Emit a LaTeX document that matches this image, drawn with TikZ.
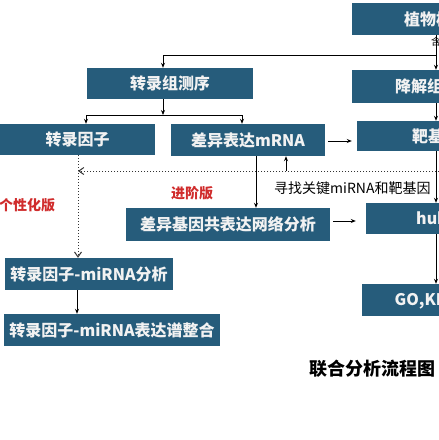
\documentclass[tikz,border=0pt]{standalone}
\usepackage{fontspec}
\setmainfont{Noto Sans CJK SC}
\usetikzlibrary{arrows.meta}
\definecolor{boxblue}{HTML}{265C7B}
\definecolor{labred}{HTML}{D02C2C}
\tikzset{
  box/.style={rectangle, fill=boxblue, text=white!95!black, inner sep=0pt, font=\fontsize{16}{18}\selectfont\bfseries},
  conn/.style={draw=black, line width=0.9pt, -{Stealth[length=5pt,width=4pt]}},
  plain/.style={draw=black, line width=0.9pt},
  dotconn/.style={draw=black!80, line width=1pt, dotted, -{Straight Barb[length=5pt,width=7pt]}},
  redlab/.style={text=labred, font=\fontsize{14}{16}\selectfont\bfseries, inner sep=0pt},
}
\begin{document}
\begin{tikzpicture}[x=1pt,y=-1pt]
\useasboundingbox (0,0) rectangle (439,440);
\fill[white] (0,0) rectangle (439,440);
\clip (0,0) rectangle (439,440);
% boxes
\node[box, minimum width=168pt, minimum height=32pt] (plant) at (436,19) {植物样本};
\node[box, minimum width=166pt, minimum height=31pt] (seq) at (170,83.5) {转录组测序};
\node[box, minimum width=166pt, minimum height=33pt] (degr) at (435,86.5) {降解组测序};
\node[box, minimum width=155pt, minimum height=31pt] (tf) at (77.5,139.5) {转录因子};
\node[box, minimum width=154pt, minimum height=32pt] (deg) at (248,140) {差异表达mRNA};
\node[box, minimum width=190pt, minimum height=30pt] (target) at (452,136) {靶基因鉴定};
\node[box, minimum width=204pt, minimum height=33pt] (net) at (228,224.5) {差异基因共表达网络分析};
\node[box, minimum width=164pt, minimum height=31pt] (hub) at (448,218.5) {hub基因};
\node[box, minimum width=172pt, minimum height=32pt] (go) at (448,300) {GO,KEGG富集};
\node[box, minimum width=168pt, minimum height=32pt] (tfmi) at (89,274) {转录因子-miRNA分析};
\node[box, minimum width=216pt, minimum height=32pt] (tfint) at (112,330) {转录因子-miRNA表达谱整合};
% labels
\node[anchor=west, inner sep=0pt, font=\fontsize{10}{12}\selectfont] (cut) at (431,42) {含};
\node[anchor=west, inner sep=0pt, font=\fontsize{14}{16}\selectfont] (find) at (274,188) {寻找关键miRNA和靶基因};
\node[redlab] (adv) at (192,193) {进阶版};
\node[redlab, anchor=west] (pers) at (-1,205) {个性化版};
\node[inner sep=0pt, font=\fontsize{18}{20}\selectfont\bfseries] (title) at (372,369) {联合分析流程图};
% coordinates
\coordinate (rtop) at (436,55);
\coordinate (ltop) at (163,55);
\coordinate (split) at (163,115);
\coordinate (sl) at (86,115);
\coordinate (sr) at (242,115);
\coordinate (dotR) at (445,171);
\coordinate (dotL) at (78,171);
\coordinate (upS) at (286,171);
% connectors
\draw[plain] (plant.south -| rtop) -- (rtop);
\draw[conn] (rtop) -- (degr.north -| rtop);
\draw[plain] (rtop) -- (ltop);
\draw[conn] (ltop) -- (seq.north -| ltop);
\draw[conn] (seq.south -| split) -- (split);
\draw[plain] (sl) -- (sr);
\draw[conn] (sl) -- (tf.north -| sl);
\draw[conn] (sr) -- (deg.north -| sr);
\draw[conn] (degr.south -| rtop) -- (target.north -| rtop);
\draw[conn] (target.south -| rtop) -- (hub.north -| rtop);
\draw[conn] (hub.south -| rtop) -- (go.north -| rtop);
\draw[conn, shorten <=3pt, shorten >=5pt] (deg.east |- 0,141) -- (target.west |- 0,141);
\draw[conn, shorten <=3pt, shorten >=10pt] (net.east |- 0,221) -- (hub.west |- 0,221);
\draw[conn] (deg.south -| 256,0) -- (net.north -| 256,0);
\draw[conn] (upS) -- (deg.south -| upS);
\draw[conn] (tfmi.south -| 77,0) -- (tfint.north -| 77,0);
\draw[dotconn] (dotR) -- (dotL);
\draw[dotconn] (tf.south -| dotL) -- (tfmi.north -| dotL);
\end{tikzpicture}
\end{document}
